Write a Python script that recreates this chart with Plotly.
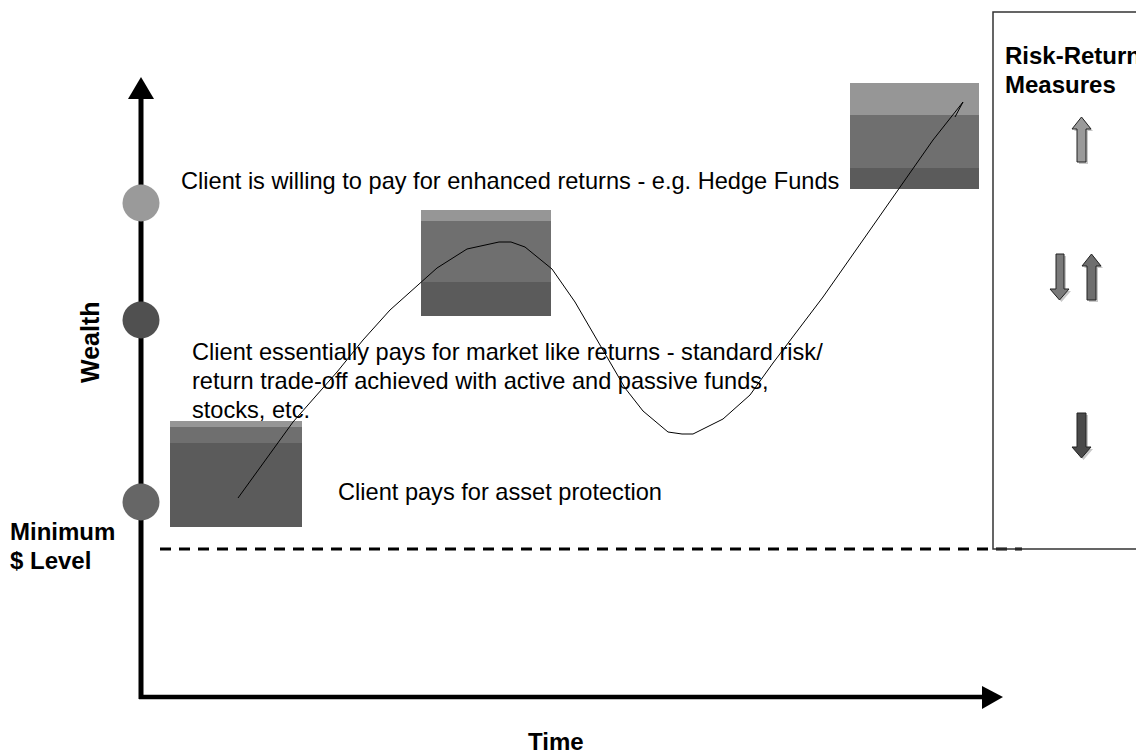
import plotly.graph_objects as go

# ---- data (diagram values, in canvas units) ----
wealth_path_x = [238, 293, 337, 363, 390, 430, 437, 467, 499, 511, 525, 552, 575, 600,
                 625, 643, 668, 682, 693, 723, 750, 773, 823, 863, 900, 933, 963, 955]
wealth_path_y = [498, 422, 372, 340, 310, 275, 268, 249, 242, 242, 247, 269, 302, 345,
                 388, 411, 432, 434, 434, 419, 395, 363, 297, 240, 187, 140, 102, 117]

level_labels = ["Client is willing to pay for enhanced returns - e.g. Hedge Funds",
                "Client essentially pays for market like returns - standard risk/",
                "return trade-off achieved with active and passive funds,",
                "stocks, etc.",
                "Client pays for asset protection"]
level_circle_y = [203, 320, 502]
level_circle_colors = ["#9a9a9a", "#505050", "#666666"]

W, H = 1144, 754
OFF = 8  # page body margin in the browser
FONT = "Liberation Sans, Arial, Helvetica, sans-serif"

fig = go.Figure()
shapes = []

def rect(x0, y0, x1, y1, color):
    shapes.append(dict(type="rect", xref="x", yref="y", x0=x0, x1=x1, y0=y0, y1=y1,
                       fillcolor=color, line=dict(width=0), layer="below"))

def poly(points, fill, line_color=None, lw=0):
    d = "M " + " L ".join(f"{x},{y}" for x, y in points) + " Z"
    shapes.append(dict(type="path", xref="x", yref="y", path=d, fillcolor=fill,
                       line=dict(color=line_color or fill, width=lw), layer="above"))

LIGHT, MID, DARK = "#969696", "#6f6f6f", "#5b5b5b"
# stacked boxes: (x0, x1, top, light_end, mid_end, bottom)
for x0, x1, t, a, b, btm in [(170, 302, 421, 427, 443, 527),
                             (421, 551, 210, 221, 282, 316),
                             (850, 979, 83, 115, 168, 189)]:
    rect(x0, t, x1, a, LIGHT)
    rect(x0, a, x1, b, MID)
    rect(x0, b, x1, btm, DARK)

# dashed minimum level line
shapes.append(dict(type="line", xref="x", yref="y", x0=160, x1=1022, y0=549, y1=549,
                   line=dict(color="black", width=3, dash="11px,8px")))
# right-hand box
shapes.append(dict(type="rect", xref="x", yref="y", x0=993, x1=1170, y0=12, y1=549,
                   line=dict(color="#333333", width=1.5), fillcolor="rgba(0,0,0,0)"))

# axes
shapes.append(dict(type="line", xref="x", yref="y", x0=141, x1=141, y0=699, y1=97,
                   line=dict(color="black", width=5)))
poly([(141, 77), (154, 99), (128, 99)], "black")
shapes.append(dict(type="line", xref="x", yref="y", x0=139, x1=984, y0=697, y1=697,
                   line=dict(color="black", width=4.5)))
poly([(1003, 697), (982, 686), (982, 709)], "black")

# circles on the wealth axis
r = 18.5
for cy, col in zip(level_circle_y, level_circle_colors):
    shapes.append(dict(type="circle", xref="x", yref="y", x0=141 - r, x1=141 + r,
                       y0=cy - r, y1=cy + r, fillcolor=col, line=dict(width=0)))

# block arrows on the right
def up_arrow(sx0, sx1, bottom, hb, hx0, hx1, tip, col):
    cx = (hx0 + hx1) / 2
    pts = [(sx0, bottom), (sx0, hb), (hx0, hb), (cx, tip), (hx1, hb), (sx1, hb), (sx1, bottom)]
    poly([(x + 2, y + 2) for x, y in pts], "#c8c8c8")
    poly(pts, col, "#222222", 1)

def down_arrow(sx0, sx1, top, hb, hx0, hx1, tip, col):
    cx = (hx0 + hx1) / 2
    pts = [(sx0, top), (sx0, hb), (hx0, hb), (cx, tip), (hx1, hb), (sx1, hb), (sx1, top)]
    poly([(x + 2, y + 2) for x, y in pts], "#c8c8c8")
    poly(pts, col, "#222222", 1)

up_arrow(1077, 1086, 162, 129, 1072, 1091, 117, "#9a9a9a")
down_arrow(1056, 1064, 254, 289, 1050, 1069, 300, "#7a7a7a")
up_arrow(1087, 1096, 300, 266, 1082, 1101, 254, "#6e6e6e")
down_arrow(1077, 1086, 413, 447, 1072, 1091, 458, "#4a4a4a")

# wealth path
fig.add_trace(go.Scatter(x=wealth_path_x, y=wealth_path_y, mode="lines",
                         line=dict(color="black", width=1), hoverinfo="skip",
                         showlegend=False))

ann = []
def text(x, y, s, size=23.6, bold=False, xanchor="left", angle=0):
    ann.append(dict(x=x, y=y, xref="x", yref="y", text=f"<b>{s}</b>" if bold else s,
                    showarrow=False, xanchor=xanchor, yanchor="middle", textangle=angle,
                    font=dict(family=FONT, size=size, color="black")))

text(179, 181, level_labels[0])
text(190, 352, level_labels[1])
text(190, 381, level_labels[2])
text(190, 410, level_labels[3])
text(336, 492, level_labels[4])
text(8, 531, "Minimum", size=24, bold=True)
text(8, 560, "$ Level", size=24, bold=True)
text(1003, 55, "Risk-Return", size=24, bold=True)
text(1003, 84, "Measures", size=24, bold=True)
text(556, 741, "Time", size=24, bold=True, xanchor="center")
text(90, 342, "Wealth", size=25, bold=True, xanchor="center", angle=-90)

fig.update_layout(
    width=W - OFF, height=H - OFF, margin=dict(l=0, r=0, t=0, b=0),
    paper_bgcolor="white", plot_bgcolor="white",
    xaxis=dict(range=[OFF, W], visible=False, fixedrange=True),
    yaxis=dict(range=[H, OFF], visible=False, fixedrange=True),
    shapes=shapes, annotations=ann, showlegend=False,
)

fig.write_html("out.html")
